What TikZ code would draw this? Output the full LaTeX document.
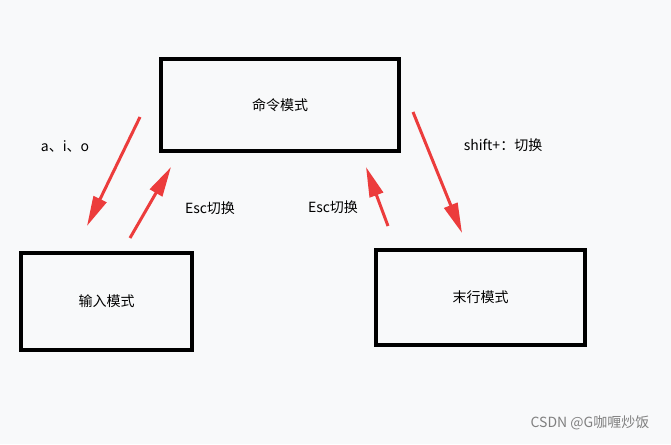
\documentclass[tikz,border=0pt]{standalone}
\usepackage{fontspec}
\setmainfont{Noto Sans CJK SC}
\usetikzlibrary{arrows.meta}
\definecolor{bgcol}{RGB}{248,249,250}
\definecolor{arrcol}{RGB}{236,60,60}

\begin{document}
\begin{tikzpicture}[x = 1pt, y = -1pt,
                    mode/.style = {draw, line width = 4pt, inner sep = 0pt, font = \fontsize{14pt}{16pt}\selectfont},
                    jump/.style = {draw = arrcol, line width = 3pt, -{Triangle[length = 30pt, width = 14pt]}},
                    tip/.style = {font = \fontsize{14pt}{16pt}\selectfont}]

\fill[bgcol] (0,0) rectangle (671,444);
\useasboundingbox (0,0) rectangle (671,444);

% the three modes
\node [mode, minimum width = 238pt, minimum height = 92pt] (cmd) at (280,105) {命令模式};
\node [mode, minimum width = 171pt, minimum height = 97pt] (input) at (106.5,301.5) {输入模式};
\node [mode, minimum width = 209pt, minimum height = 95pt] (last) at (480.5,297.5) {末行模式};

% arrow ends
\coordinate (a1) at (140,117);
\coordinate (b1) at (87,226);
\coordinate (a2) at (130,238);
\coordinate (b2) at (171,167);
\coordinate (a3) at (388,226);
\coordinate (b3) at (366,167);
\coordinate (a4) at (413,112);
\coordinate (b4) at (462,233);

\draw [jump] (a1) -- (b1);
\draw [jump] (a2) -- (b2);
\draw [jump] (a3) -- (b3);
\draw [jump] (a4) -- (b4);

% labels
\node [tip] (l1) at (65,146) {a、i、o};
\node [tip] (l2) at (210,208) {Esc切换};
\node [tip] (l3) at (333,207) {Esc切换};
\node [tip] (l4) at (503,145) {shift+：切换};

\node [tip, text = gray] (mark) at (590,423) {CSDN @G咖喱炒饭};
\end{tikzpicture}
\end{document}
